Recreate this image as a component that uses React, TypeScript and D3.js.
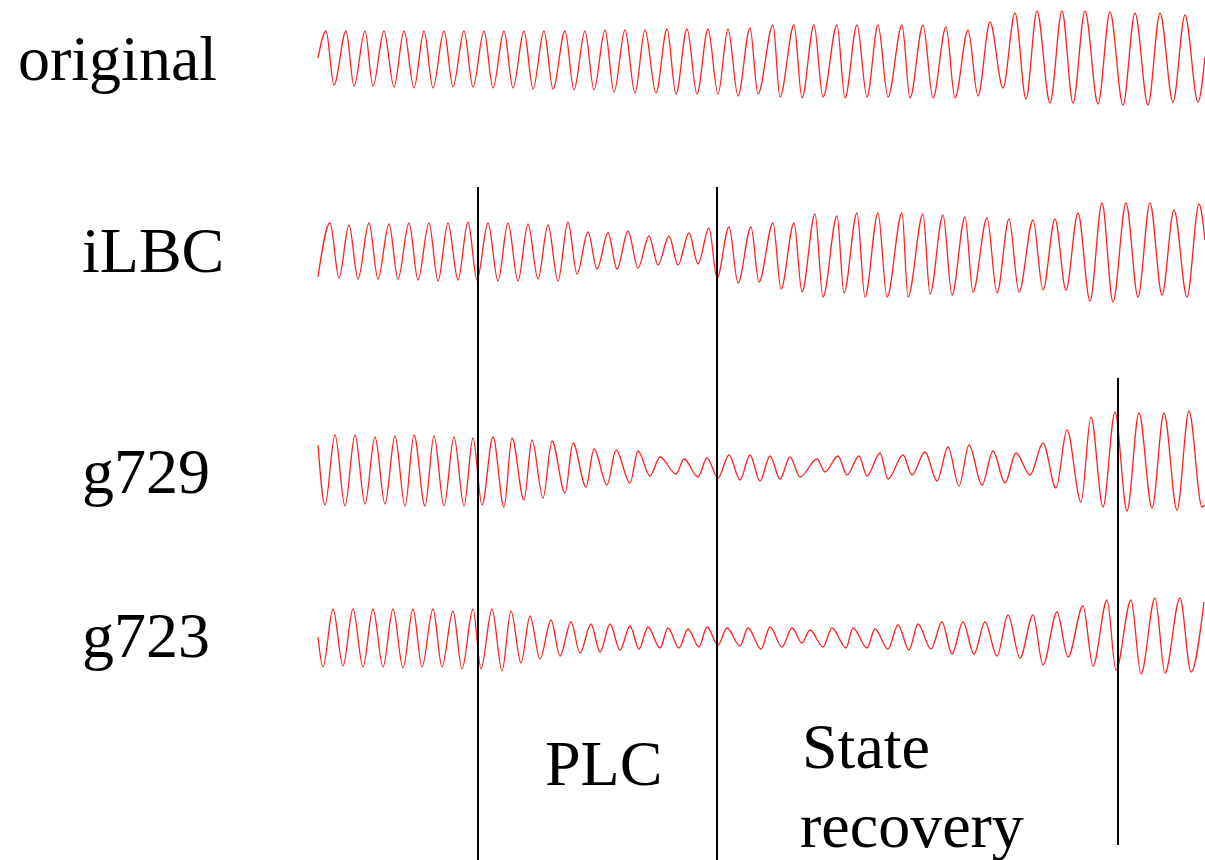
import React from 'react';
import * as d3 from 'd3';

// extrema of each trace: [sample, amplitude]
const original: [number, number][] = [
  [0, 0], [8, 27], [16, -27], [28, 27], [36, -28], [47, 27], [55, -28], [66, 27], [76, -29], [86, 27],
  [96, -30], [106, 27], [115, -30], [126, 27], [135, -29], [146, 27], [155, -29], [166, 27], [175, -30],
  [186, 27], [195, -30], [206, 27], [215, -31], [226, 27], [235, -31], [247, 27], [256, -32], [267, 27],
  [276, -32], [287, 28], [296, -34], [307, 28], [317, -35], [327, 28], [338, -35], [349, 29], [358, -36],
  [369, 29], [379, -36], [390, 29], [400, -36], [410, 29], [420, -38], [432, 30], [440, -36], [455, 33],
  [462, -39], [476, 33], [484, -40], [496, 33], [505, -39], [519, 33], [527, -40], [539, 33], [549, -39],
  [560, 33], [570, -39], [584, 33], [592, -40], [605, 33], [615, -40], [628, 31], [637, -40], [650, 28],
  [660, -38], [672, 36], [685, -30], [697, 45], [708, -41], [719, 47], [732, -45], [744, 47], [755, -45],
  [767, 47], [780, -46], [792, 46], [805, -47], [817, 45], [830, -47], [842, 45], [855, -44], [867, 43],
  [880, -44], [887, 1],
];

const ilbc: [number, number][] = [
  [0, -27], [12, 27], [21, -28], [31, 25], [40, -29], [51, 27], [60, -29], [71, 26], [80, -29], [91, 27],
  [100, -30], [111, 27], [120, -31], [130, 27], [140, -30], [150, 28], [159, -30], [170, 27], [180, -31],
  [190, 27], [200, -31], [210, 26], [220, -29], [230, 25], [240, -31], [250, 28], [259, -24], [270, 18],
  [279, -19], [290, 17], [299, -19], [310, 19], [320, -18], [331, 14], [340, -15], [351, 14], [360, -15],
  [371, 17], [380, -14], [391, 22], [399, -28], [411, 23], [420, -33], [433, 23], [441, -32], [455, 27],
  [463, -39], [476, 27], [484, -42], [497, 36], [505, -47], [519, 34], [526, -43], [539, 37], [547, -47],
  [560, 37], [569, -47], [584, 37], [590, -47], [605, 36], [612, -44], [625, 35], [634, -45], [647, 33],
  [655, -42], [669, 32], [679, -43], [691, 31], [701, -42], [715, 30], [725, -40], [737, 31], [748, -40],
  [760, 37], [772, -51], [784, 47], [795, -52], [808, 47], [820, -47], [832, 47], [844, -45], [856, 40],
  [869, -47], [881, 46], [887, 10],
];

const g729: [number, number][] = [
  [0, 25], [7, -35], [17, 35], [27, -36], [37, 35], [47, -34], [57, 33], [67, -34], [77, 34], [87, -36],
  [96, 35], [107, -36], [116, 34], [126, -36], [136, 33], [146, -36], [155, 32], [164, -35], [175, 33],
  [186, -37], [194, 32], [206, -30], [214, 30], [225, -28], [234, 29], [247, -23], [255, 27], [268, -17],
  [276, 21], [289, -15], [298, 20], [312, -13], [320, 19], [332, -6], [342, 13], [358, -4], [366, 11],
  [380, -7], [389, 12], [400, -8], [411, 15], [422, -10], [432, 15], [442, -11], [452, 14], [462, -9],
  [472, 13], [482, -7], [499, 11], [507, -2], [520, 14], [529, -5], [541, 14], [549, -6], [562, 17],
  [570, -9], [585, 15], [594, -5], [607, 18], [619, -11], [630, 23], [641, -16], [651, 25], [664, -15],
  [675, 19], [687, -13], [698, 17], [712, -5], [725, 27], [738, -18], [749, 40], [763, -32], [773, 53],
  [785, -37], [797, 58], [809, -41], [821, 57], [834, -38], [846, 57], [859, -40], [871, 59], [884, -37],
  [887, -35],
];

const g723: [number, number][] = [
  [0, 1], [5, -29], [15, 29], [25, -28], [35, 29], [45, -29], [55, 29], [65, -29], [75, 29], [85, -30],
  [95, 29], [104, -29], [115, 29], [124, -29], [135, 27], [144, -31], [155, 29], [163, -31], [174, 29],
  [184, -33], [193, 27], [203, -25], [212, 22], [222, -21], [233, 18], [242, -18], [253, 16], [262, -15],
  [273, 14], [282, -14], [292, 14], [302, -12], [312, 12], [321, -11], [330, 11], [342, -10], [350, 10],
  [361, -10], [370, 9], [381, -9], [389, 11], [400, -7], [409, 10], [422, -8], [430, 10], [443, -11],
  [452, 11], [464, -9], [474, 10], [484, -5], [492, 8], [505, -9], [514, 10], [528, -10], [535, 10],
  [549, -10], [557, 9], [570, -11], [580, 13], [591, -12], [600, 14], [613, -11], [624, 16], [634, -16],
  [645, 16], [656, -16], [667, 16], [679, -18], [690, 23], [702, -20], [715, 23], [725, -27], [739, 26],
  [750, -19], [765, 32], [775, -28], [789, 38], [798, -32], [813, 38], [823, -36], [837, 40], [847, -35],
  [862, 40], [873, -34], [886, 36],
];

const traces = [original, ilbc, g729, g723];
const traceNames = ['original', 'iLBC', 'g729', 'g723'];

// frame boundaries (samples): loss start, loss end, end of recovery
const plcStart = 160;
const plcEnd = 399;
const recoveryEnd = 800;

const W = 1205;
const H = 860;
const rowCenter = [58, 250, 470, 638];
const labelPos = [[18, 80], [82, 272], [82, 493], [82, 657]];

const x = d3.scaleLinear().domain([0, 887]).range([318, 1205]);

const App = () => {
  const font = '"Liberation Serif", "Times New Roman", serif';
  return (
    <svg width={W} height={H} style={{ position: 'absolute', left: 0, top: 0, background: '#fff' }}>
      {traces.map((data, i) => {
        const y = d3.scaleLinear().domain([-60, 60]).range([rowCenter[i] + 60, rowCenter[i] - 60]);
        const line = d3.line<[number, number]>()
          .x(d => x(d[0]))
          .y(d => y(d[1]))
          .curve(d3.curveMonotoneX);
        return (
          <g key={traceNames[i]}>
            <path d={line(data) || ''} fill="none" stroke="#ff2020" strokeWidth={1.3} />
            <text x={labelPos[i][0]} y={labelPos[i][1]} fontFamily={font} fontSize={64} fill="#000">
              {traceNames[i]}
            </text>
          </g>
        );
      })}
      <line x1={x(plcStart)} x2={x(plcStart)} y1={187} y2={860} stroke="#000" strokeWidth={2} />
      <line x1={x(plcEnd)} x2={x(plcEnd)} y1={187} y2={860} stroke="#000" strokeWidth={2} />
      <line x1={x(recoveryEnd)} x2={x(recoveryEnd)} y1={378} y2={845} stroke="#000" strokeWidth={2} />
      <text x={545} y={785} fontFamily={font} fontSize={64} fill="#000">PLC</text>
      <text x={802} y={768} fontFamily={font} fontSize={64} fill="#000">State</text>
      <text x={800} y={847} fontFamily={font} fontSize={64} fill="#000">recovery</text>
    </svg>
  );
};

export default App;
